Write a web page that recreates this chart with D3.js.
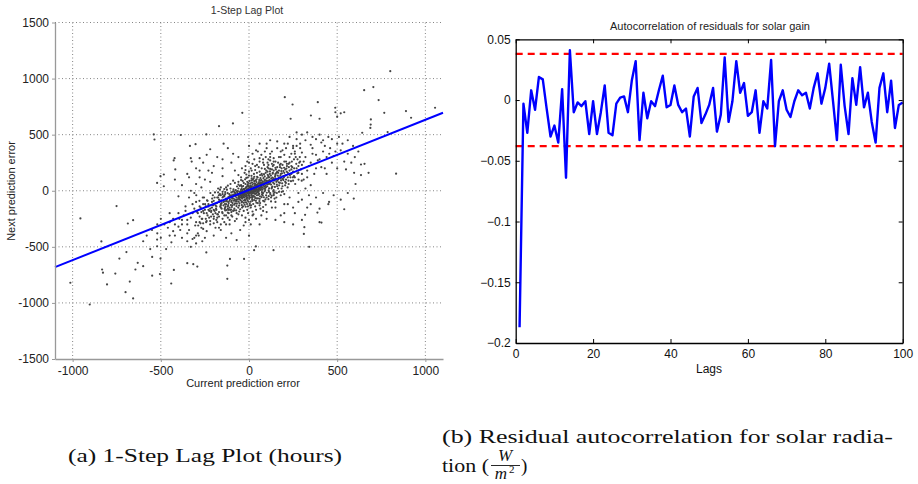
<!DOCTYPE html>
<html>
<head>
<meta charset="utf-8">
<script src="https://cdn.jsdelivr.net/npm/d3@7"></script>
<style>
	body { margin: 0; background: #fff; }
	svg { display: block; }
	.plot text { font-family: "Liberation Sans", Arial, Helvetica, sans-serif; }
	.caption { font-family: "Liberation Serif", "DejaVu Serif", serif; fill: #111; }
</style>
</head>
<body>
<script>

// Data

// (a) lag plot: [current error, next error]
var lagPoints = [
	// dense core
	[-5,12],[23,-8],[41,35],[-37,-22],[8,47],[60,18],[-62,-41],[15,-30],[-18,25],[34,62],[-45,8],[72,55],[2,-55],[-28,-60],[50,-12],[-80,-15],[88,40],[-10,80],[27,20],[-52,-78],
	[63,91],[-33,42],[11,5],[95,70],[-70,-60],[45,-40],[-15,-12],[30,85],[-90,-35],[18,-75],[75,10],[-40,-95],[5,30],[55,45],[-25,-40],[80,-20],[-60,20],[38,-5],[-8,-85],[66,72],
	[-48,-18],[20,55],[-95,-70],[92,25],[12,-18],[-20,60],[48,28],[-75,5],[35,-65],[-3,-3],[70,95],[-55,-48],[25,-45],[-12,38],[85,62],[-38,-70],[58,-28],[-85,-90],[42,78],[-22,-5],
	[7,65],[99,88],[-65,-25],[15,40],[52,8],[-45,50],[30,-25],[-5,-40],[78,30],[-30,15],[62,-50],[-92,-8],[22,98],[-15,-65],[40,50],[-58,-55],[88,-5],[-35,-35],[10,15],[68,42],
	[-72,-80],[33,12],[-8,52],[57,78],[-42,-10],[19,-90],[83,58],[-26,-28],[47,-8],[-68,38],[3,88],[94,48],[-50,-30],[28,33],[-18,-50],[74,-35],[-98,-55],[38,92],[-4,22],[61,26],
	[-138,-162],[-117,-57],[-103,-128],[-88,12],[-79,-113],[-71,-137],[-59,-97],[-52,43],[-41,-128],[-29,-108],[-21,-86],[-11,-118],[1,-72],[9,-97],[21,-58],[29,-83],[42,-107],[51,-68],
	[59,-92],[71,-57],[78,-41],[93,-77],[101,-18],[112,-48],[-135,-12],[-112,-30],[-98,-88],[-86,-5],[-77,-50],[-66,-12],[-57,-66],[-44,-48],[-36,5],[-24,-78],[-13,10],[-2,-28],
	[13,-38],[24,4],[36,-28],[44,14],[56,-3],[64,58],[77,82],[86,18],[97,33],[108,88],[118,62],[126,108],[137,72],[148,128],[158,55],[167,102],[178,135],[188,66],[198,118],
	[-128,-88],[-118,-128],[-96,-62],[-84,-125],[-74,-92],[-63,-4],[-47,-85],[-32,-52],[-16,-33],[-6,48],[6,-12],[17,72],[31,47],[43,102],[53,66],[67,8],[82,112],[91,95],
	[103,58],[114,22],[124,135],[133,38],[143,62],[156,160],[169,75],[183,175],[192,105],[205,48],[212,198],[224,90],
	[-7,118],[14,133],[28,150],[-22,102],[46,125],[63,140],[-36,88],[85,148],[0,170],[35,185],[72,200],[-15,145],[55,210],[98,180],[-45,120],[20,240],[-60,80],[110,230],
	[-30,-180],[10,-150],[40,-170],[-70,-200],[60,-130],[-5,-200],[-95,-230],[25,-210],[-50,-165],[80,-145],[-110,-260],[-20,-240],
	[-142,-95],[-133,-140],[-121,-22],[-114,-171],[-108,-76],[-97,-145],[-91,-48],[-83,-160],[-76,-28],[-69,-115],[-64,-78],[-56,-132],[-49,-6],[-43,-62],[-39,-150],[-31,-30],
	[-27,15],[-19,-142],[-14,-46],[-9,-16],[-4,-98],[3,-44],[8,28],[12,-130],[16,18],[22,-22],[26,110],[32,-52],[37,6],[43,-68],[46,58],[52,-38],[57,24],[61,-72],[65,112],
	[69,36],[73,-12],[79,68],[84,-58],[89,128],[92,6],[97,-40],[102,76],[106,142],[111,4],[116,96],[121,-32],[128,20],[132,118],[138,-8],[144,92],[147,34],
	[-146,-52],[-137,-118],[-126,-172],[-119,-98],[-106,-44],[-101,-168],[-93,-110],[-87,-70],[-81,-32],[-73,-175],[-68,-8],[-61,-150],[-54,-112],[-46,-40],[-41,-104],
	[-34,-140],[-28,-88],[-23,-18],[-17,-104],[-12,-72],[-6,-140],[-1,12],[4,-115],[11,-60],[14,92],[19,-8],[24,-118],[29,66],[33,-10],[39,-90],[45,40],[49,118],[54,-20],
	[58,96],[63,-110],[68,60],[72,150],[76,-22],[81,45],[87,-95],[90,78],[95,160],[100,-60],[104,40],[109,118],[113,-10],[119,172],[123,80],[129,-45],[134,152],[140,110],[146,-15],
	[-20,-2],[-10,3],[0,-15],[10,-5],[20,10],[30,0],[-25,18],[15,22],[-35,-8],[5,-22],[-15,32],[25,-12],[40,22],[-30,-48],[50,38],[-45,-30],[55,15],[-52,-12],[65,28],[-8,-58],
	[35,48],[-40,35],[45,5],[-18,-32],[8,40],[-5,70],[18,-48],[62,8],[-62,-28],[72,25],[-72,-38],
	[-180,-60],[-165,-95],[-150,-30],[-135,-150],[-120,-195],[-100,-40],[-85,-175],[-70,-95],[-55,-185],[-40,-60],[-25,-125],[-10,-170],[5,-130],[20,-185],[35,-140],[50,-110],
	[65,-160],[80,-90],[95,-125],[110,-75],[125,-95],[140,-40],[155,-60],[170,-10],[185,20],[200,-30],
	[-175,-15],[-160,30],[-140,15],[-120,45],[-100,-15],[-80,70],[-60,55],[-45,95],[-30,70],[-15,115],[0,135],[15,110],[30,125],[45,160],[60,170],[75,135],[90,195],[105,210],
	[120,195],[135,220],[150,205],[165,160],[180,240],[195,175],[210,260],[225,240],[240,220],[255,280],[270,200],[285,250],
	[10,200],[35,220],[-20,185],[60,260],[85,230],[110,280],[140,260],[170,300],[200,320],[230,300],[260,330],[190,360],[130,350],[70,320],[-5,300],[40,360],[100,420],[160,440],
	[220,420],[250,380],[290,380],[310,260],[280,160],[250,90],
	[-200,-170],[-215,-230],[-230,-170],[-245,-250],[-185,-260],[-170,-230],[-150,-250],[-130,-220],[-200,-290],[-220,-270],[-260,-290],[-190,-330],[-160,-300],[-270,-190],
	[-280,-280],[-100,-220],[-80,-270],[-60,-210],
	[-5,5],[12,-3],[-14,-9],[24,16],[-28,-20],[36,26],[-6,-24],[16,34],[-24,2],[48,52],[-38,-44],[58,62],[-50,-60],[28,-4],[-2,40],[68,70],[-60,-70],[78,82],[-80,-80],[42,-22],
	[-42,16],[88,96],[-16,-16],[6,8],
	// middle ring
	[120,85],[150,140],[-130,-95],[-160,-120],[180,110],[-110,-150],[105,170],[-140,-40],[200,160],[-190,-130],[130,30],[-125,10],[160,210],[-170,-190],[140,-30],[-105,60],
	[210,140],[-220,-160],[115,120],[-150,-60],[175,70],[-135,-175],[190,230],[-200,-90],[125,-60],[-115,-110],[230,180],[-240,-200],[145,95],[-165,-30],[110,200],[-180,-210],
	[160,40],[-120,-140],[220,120],[-210,-150],[135,160],[-145,-100],[185,-10],[-175,20],[105,250],[-230,-120],[205,190],[-155,-160],[150,110],[-100,-190],[240,150],[-195,-60],
	[170,180],[-130,-70],[125,55],[-160,-130],[195,95],[-110,-50],[215,220],[-185,-170],[140,5],[-205,-40],[165,250],[-140,-220],[110,130],[-125,-80],[250,170],[-245,-140],
	[180,150],[-170,-100],[130,190],[-150,-10],[225,60],[-215,-190],[155,80],[-105,-170],[200,260],[-235,-90],[120,-20],[-130,30],[245,210],[-190,-200],[170,120],[-160,-150],
	[140,230],[-120,-240],[210,100],[-200,-120],[118,150],[-145,-130],[190,40],[-175,-60],[160,170],[-110,-90],[230,250],[-225,-180],[135,100],[-155,-110],[185,200],[-135,-30],
	[255,130],[-250,-170],[145,-70],[-95,-130],[120,270],[-180,-240],[205,80],[-165,10],[175,230],[-205,-210],[110,60],[-115,-200],[240,190],[-140,-50],[150,150],[-185,-140],
	[195,130],[-120,-160],[130,240],[-210,-100],[165,20],[-100,-100],[220,160],[-235,-220],[100,110],[-150,-200],[180,-40],[-170,-80],[215,240],[-130,-120],[140,180],[-195,-180],
	[160,90],[-105,20],[235,120],[-160,-40],
	[152,190],[158,-20],[163,135],[171,48],[176,210],[182,92],[187,155],[193,-5],[199,205],[204,135],[209,70],[214,170],[219,30],[226,210],[232,140],[238,85],[243,260],
	[249,120],[256,200],[262,60],[268,240],[274,155],[281,100],[288,300],[294,190],[299,90],
	[-152,-190],[-158,-85],[-163,-140],[-171,-40],[-176,-210],[-182,-110],[-187,-160],[-193,-15],[-199,-230],[-204,-130],[-209,-70],[-214,-180],[-219,-20],[-226,-240],
	[-232,-140],[-238,-85],[-243,-280],[-249,-120],[-256,-200],[-262,-60],[-268,-250],[-274,-150],[-281,-90],[-288,-310],[-294,-190],[-299,-40],
	[15,180],[-25,160],[45,230],[80,250],[-60,140],[-90,90],[120,300],[60,290],[-10,260],[30,280],[-40,200],[95,300],[140,290],[-70,-250],[-20,-280],[40,-250],[-110,-300],
	[10,-300],[-90,-180],[70,-220],[-140,-280],[-40,-220],[100,-190],[130,-150],
	// outer band
	[280,220],[320,300],[-280,-230],[-300,-280],[350,250],[-320,-200],[260,350],[-270,-330],[300,150],[-260,-120],[380,320],[-350,-300],[270,400],[-290,-380],[330,180],[-310,-160],
	[400,280],[-380,-260],[290,260],[-275,-290],[360,380],[-340,-350],[310,100],[-300,-100],[420,350],[-400,-320],[265,300],[-265,-250],[340,220],[-330,-240],[290,420],[-285,-400],
	[370,150],[-360,-180],[430,400],[-420,-300],[300,340],[-305,-310],[350,50],[-340,-60],[280,180],[-260,-180],[390,270],[-370,-220],[320,450],[-310,-420],[260,120],[-255,-60],
	[410,210],[-395,-250],[300,230],[-290,-200],[360,330],[-350,-260],[275,280],[-280,-140],[440,300],[-430,-360],[330,120],[-320,-120],[280,-20],[-270,30],[300,-80],[-300,60],
	[250,-150],[-250,100],[350,-120],[-340,120],[270,460],[-265,-450],[320,20],[-310,-20],[380,200],[-360,-140],[455,330],[-450,-280],
	[150,-150],[200,-120],[100,-250],[-100,250],[-150,200],[-60,300],[60,-300],[230,-60],[-220,80],[0,250],[20,-220],[-20,220],[0,-260],[80,-180],[-80,180],[150,-100],
	[-150,130],[200,-200],[-210,160],[50,350],[-50,-350],[100,380],[-100,-380],[0,400],[0,-400],[120,450],[-130,-420],[180,350],[-170,-330],[250,400],[-240,-360],[60,420],
	[-70,-440],[20,330],[-30,-310],
	[420,450],[460,380],[500,420],[480,310],[520,360],[540,260],[450,480],[400,500],[380,460],[560,330],[590,400],[510,480],[470,250],[430,200],[550,190],[580,250],
	[600,300],[500,200],[620,350],[440,150],[360,480],[330,520],[300,500],[230,480],[200,420],[160,380],[120,330],[80,280],[180,300],[240,330],[150,260],[90,350],
	[210,380],[270,520],[350,410],[410,430],[470,460],[530,420],[490,350],[560,450],
	[-420,-400],[-460,-330],[-500,-420],[-480,-300],[-520,-380],[-380,-420],[-440,-460],[-350,-450],[-400,-200],[-450,-200],[-550,-350],[-500,-250],[-600,-450],[-580,-400],
	[-330,-500],[-300,-470],[-250,-420],[-200,-400],[-160,-350],[-130,-300],[-220,-300],[-180,-280],[-350,-380],[-470,-520],[-390,-350],[-430,-250],[-520,-300],[-560,-520],
	[-300,-400],[-260,-340],[-240,-270],[-200,-250],[-380,-300],[-450,-400],[-320,-430],
	[-380,50],[-420,100],[-350,150],[-300,200],[-260,250],[-230,180],[-400,-50],[-330,0],[-280,120],[-200,220],[-180,300],[-150,280],[-240,320],[-120,380],[-90,330],
	[220,-120],[260,-200],[300,-260],[330,-150],[380,-60],[420,-20],[450,-120],[250,-300],[200,-280],[180,-220],[150,-260],[280,-100],[340,-40],[400,-160],[480,-40],[520,-80],[560,-20],
	// outliers
	[801,1066],[653,897],[705,924],[735,808],[767,695],[890,710],[919,651],[1055,740],[834,152],[786,523],[691,636],[690,590],[688,560],[642,517],[635,234],[655,240],
	[678,160],[635,140],[203,834],[247,769],[390,790],[-38,695],[236,642],[400,642],[351,671],[489,740],[490,700],[500,660],[520,690],[540,700],
	[-540,502],[-536,457],[-387,497],[-242,502],[-170,576],[-91,600],[-335,400],[-303,415],[-483,145],[-502,130],[-427,270],[-418,190],[-521,70],[-483,40],[-280,290],
	[-280,180],[-220,370],[-144,420],[596,160],[594,-70],[604,60],[-422,290],[-330,290],[-325,260],
	[-956,-247],[-751,-137],[-1013,-820],[-903,-1014],[-833,-702],[-805,-835],[-828,-730],[-758,-738],[-700,-904],[-735,-605],[-657,-960],[-676,-810],[-644,-702],[-631,-643],
	[-687,-292],[-657,-262],[-837,-452],[-695,-547],[-600,-672],[-549,-757],[-505,-743],[-502,-605],[-549,-590],[-441,-827],[-426,-706],[-350,-646],[-293,-676],[-316,-655],
	[-242,-550],[-123,-785],[-123,-667],[-108,-608],[-28,-608],[29,-530],[139,-530],[39,-496],[341,-500],[411,-284],[388,-195],[454,-100],[540,-165],[311,-385],[314,-325],
	[400,-280],[318,-215],[-521,-435],[-521,-495]
];

// fitted line end points
var lagFit = [[-1100, -681], [1100, 695]];

var lagXTicks = [-1000, -500, 0, 500, 1000],
	lagYTicks = [-1500, -1000, -500, 0, 500, 1000, 1500];

// (b) autocorrelation, lags 1..100
var acfLags = d3.range(1, 101),
	acfValues = [
		-0.187, -0.003, -0.027, 0.008, -0.008, 0.019, 0.017, -0.007, -0.030, -0.021,
		-0.035, 0.009, -0.064, 0.041, -0.010, -0.002, -0.005, -0.001, -0.028, -0.001,
		-0.028, -0.010, 0.012, -0.027, -0.029, -0.003, 0.002, 0.003, -0.010, 0.016,
		0.032, -0.033, 0.006, -0.015, -0.001, -0.005, 0.008, 0.020, -0.006, -0.004,
		0.012, -0.004, -0.010, -0.007, -0.030, 0.003, 0.010, -0.019, -0.012, -0.004,
		0.010, -0.026, -0.012, 0.035, -0.018, -0.001, 0.032, 0.006, 0.014, -0.013,
		-0.010, 0.008, -0.027, -0.001, -0.007, 0.033, -0.038, -0.001, 0.008, -0.008,
		-0.014, -0.001, 0.008, 0.004, 0.006, -0.007, 0.010, 0.022, -0.003, 0.010,
		0.030, -0.001, -0.033, 0.029, -0.005, -0.028, 0.018, -0.004, 0.027, -0.006,
		0.006, -0.018, -0.035, 0.010, 0.022, -0.010, 0.016, -0.023, -0.004, -0.002
	],
	acfBound = 0.038;

var acfXTicks = [0, 20, 40, 60, 80, 100],
	acfYTicks = [0.05, 0, -0.05, -0.1, -0.15, -0.2];

// Canvas

var svg = d3.select('body').append('svg')
	.attr('width', 918)
	.attr('height', 484);

// Left: lag plot

var lag = svg.append('g').attr('class', 'plot'),
	lx = d3.scaleLinear().domain([-1100, 1100]).range([55, 443]),
	ly = d3.scaleLinear().domain([-1500, 1500]).range([359, 22.5]);

lag.selectAll('line.vgrid')
	.data(lagXTicks)
	.enter()
	.append('line')
	.attr('x1', function(d) {return lx(d);})
	.attr('x2', function(d) {return lx(d);})
	.attr('y1', ly(1500))
	.attr('y2', ly(-1500))
	.style('stroke', '#777')
	.style('stroke-width', 0.9)
	.style('stroke-dasharray', '1,2.5');

lag.selectAll('line.hgrid')
	.data(lagYTicks.filter(function(d) {return d > -1500;}))
	.enter()
	.append('line')
	.attr('x1', lx(-1100))
	.attr('x2', lx(1100))
	.attr('y1', function(d) {return ly(d);})
	.attr('y2', function(d) {return ly(d);})
	.style('stroke', '#777')
	.style('stroke-width', 0.9)
	.style('stroke-dasharray', '1,2.5');

lag.append('g')
	.selectAll('circle')
	.data(lagPoints)
	.enter()
	.append('circle')
	.attr('cx', function(d) {return lx(d[0]);})
	.attr('cy', function(d) {return ly(d[1]);})
	.attr('r', 1.1)
	.style('fill', '#444');

lag.append('line')
	.attr('x1', lx(lagFit[0][0]))
	.attr('y1', ly(lagFit[0][1]))
	.attr('x2', lx(lagFit[1][0]))
	.attr('y2', ly(lagFit[1][1]))
	.style('stroke', '#0000ff')
	.style('stroke-width', 2);

var lagXAxis = lag.append('g')
	.attr('transform', 'translate(0,' + ly(-1500) + ')')
	.call(d3.axisBottom(lx).tickValues(lagXTicks).tickSize(3).tickSizeOuter(0).tickPadding(4)
		.tickFormat(function(d) {return String(d);}));

var lagYAxis = lag.append('g')
	.attr('transform', 'translate(' + lx(-1100) + ',0)')
	.call(d3.axisLeft(ly).tickValues(lagYTicks).tickSize(3).tickSizeOuter(0).tickPadding(3)
		.tickFormat(function(d) {return String(d);}));

[lagXAxis, lagYAxis].forEach(function(a) {
	a.select('.domain').style('stroke', '#999').style('stroke-width', 1.3);
	a.selectAll('.tick line').style('stroke', '#999');
	a.selectAll('.tick text').style('font-size', '12px').style('fill', '#222');
});

lag.append('text')
	.attr('x', 247)
	.attr('y', 14)
	.attr('text-anchor', 'middle')
	.style('font-size', '10.5px')
	.style('fill', '#333')
	.text('1-Step Lag Plot');

lag.append('text')
	.attr('x', 243)
	.attr('y', 387)
	.attr('text-anchor', 'middle')
	.style('font-size', '11px')
	.style('fill', '#222')
	.text('Current prediction error');

lag.append('text')
	.attr('transform', 'translate(15,191) rotate(-90)')
	.attr('text-anchor', 'middle')
	.style('font-size', '11px')
	.style('fill', '#222')
	.text('Next prediction error');

// Right: autocorrelation

var acf = svg.append('g').attr('class', 'plot'),
	ax = d3.scaleLinear().domain([0, 100]).range([515.7, 902.7]),
	ay = d3.scaleLinear().domain([-0.2, 0.05]).range([343, 39.3]);

acf.selectAll('line.bound')
	.data([acfBound, -acfBound])
	.enter()
	.append('line')
	.attr('x1', ax(0))
	.attr('x2', ax(100))
	.attr('y1', function(d) {return ay(d);})
	.attr('y2', function(d) {return ay(d);})
	.style('stroke', '#ff0000')
	.style('stroke-width', 2.2)
	.style('stroke-dasharray', '7,5');

acf.append('path')
	.datum(acfValues)
	.attr('d', d3.line()
		.x(function(d, i) {return ax(acfLags[i]);})
		.y(function(d) {return ay(d);}))
	.style('fill', 'none')
	.style('stroke', '#0000ff')
	.style('stroke-width', 2.4)
	.style('stroke-linejoin', 'round');

var acfFmt = function(d) {return d === 0 ? '0' : (d < 0 ? '\u2212' : '') + Math.abs(d);};

var acfAxes = [
	acf.append('g').attr('transform', 'translate(0,' + ay(-0.2) + ')')
		.call(d3.axisBottom(ax).tickValues(acfXTicks).tickSize(-4).tickSizeOuter(0).tickPadding(6)),
	acf.append('g').attr('transform', 'translate(0,' + ay(0.05) + ')')
		.call(d3.axisTop(ax).tickValues(acfXTicks).tickSize(-4).tickSizeOuter(0).tickFormat('')),
	acf.append('g').attr('transform', 'translate(' + ax(0) + ',0)')
		.call(d3.axisLeft(ay).tickValues(acfYTicks).tickSize(-4).tickSizeOuter(0).tickPadding(5).tickFormat(acfFmt)),
	acf.append('g').attr('transform', 'translate(' + ax(100) + ',0)')
		.call(d3.axisRight(ay).tickValues(acfYTicks).tickSize(-4).tickSizeOuter(0).tickFormat(''))
];

acfAxes.forEach(function(a) {
	a.select('.domain').style('stroke', '#000').style('stroke-width', 1.3);
	a.selectAll('.tick line').style('stroke', '#000');
	a.selectAll('.tick text').style('font-size', '12px').style('fill', '#111');
});

acf.append('text')
	.attr('x', 710)
	.attr('y', 30)
	.attr('text-anchor', 'middle')
	.style('font-size', '11px')
	.style('fill', '#222')
	.text('Autocorrelation of residuals for solar gain');

acf.append('text')
	.attr('x', 709)
	.attr('y', 373)
	.attr('text-anchor', 'middle')
	.style('font-size', '12px')
	.style('fill', '#111')
	.text('Lags');

// Captions

svg.append('text')
	.attr('class', 'caption')
	.attr('x', 68)
	.attr('y', 462)
	.attr('textLength', 274)
	.attr('lengthAdjust', 'spacingAndGlyphs')
	.style('font-size', '19px')
	.text('(a) 1-Step Lag Plot (hours)');

svg.append('text')
	.attr('class', 'caption')
	.attr('x', 442)
	.attr('y', 443)
	.attr('textLength', 451)
	.attr('lengthAdjust', 'spacingAndGlyphs')
	.style('font-size', '19px')
	.text('(b) Residual autocorrelation for solar radia-');

svg.append('text')
	.attr('class', 'caption')
	.attr('x', 442)
	.attr('y', 472)
	.attr('textLength', 47)
	.attr('lengthAdjust', 'spacingAndGlyphs')
	.style('font-size', '19px')
	.text('tion (');

svg.append('text')
	.attr('class', 'caption')
	.attr('x', 505)
	.attr('y', 461)
	.attr('text-anchor', 'middle')
	.style('font-size', '17px')
	.style('font-style', 'italic')
	.text('W');

svg.append('line')
	.attr('x1', 491)
	.attr('x2', 520)
	.attr('y1', 465.5)
	.attr('y2', 465.5)
	.style('stroke', '#111')
	.style('stroke-width', 0.9);

svg.append('text')
	.attr('class', 'caption')
	.attr('x', 501)
	.attr('y', 479)
	.attr('text-anchor', 'middle')
	.style('font-size', '17px')
	.style('font-style', 'italic')
	.text('m');

svg.append('text')
	.attr('class', 'caption')
	.attr('x', 509)
	.attr('y', 473)
	.style('font-size', '11px')
	.text('2');

svg.append('text')
	.attr('class', 'caption')
	.attr('x', 521)
	.attr('y', 472)
	.style('font-size', '19px')
	.text(')');

</script>
</body>
</html>
